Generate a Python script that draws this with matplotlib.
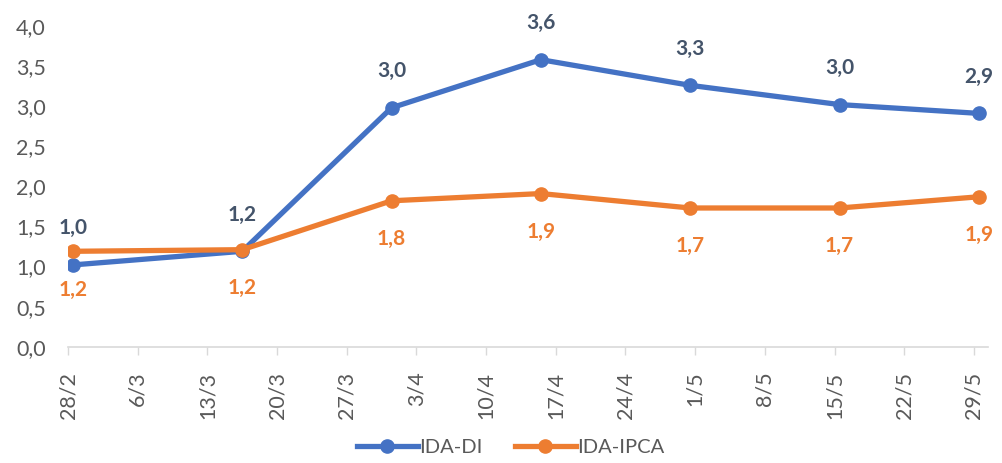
import matplotlib
matplotlib.use("Agg")
import matplotlib.pyplot as plt
import matplotlib.dates as mdates
import pandas as pd

plt.rcParams['font.family'] = ['Lato', 'DejaVu Sans']

# dados
datas = pd.to_datetime(["2020-02-28", "2020-03-16", "2020-03-31", "2020-04-15",
                        "2020-04-30", "2020-05-15", "2020-05-29"])
ida_di = [1.02, 1.19, 2.98, 3.58, 3.26, 3.02, 2.91]
ida_ipca = [1.19, 1.21, 1.82, 1.91, 1.73, 1.73, 1.87]
ticks_x = pd.date_range("2020-02-28", "2020-05-29", freq="7D")
rotulos_x = ["28/2", "6/3", "13/3", "20/3", "27/3", "3/4", "10/4", "17/4",
             "24/4", "1/5", "8/5", "15/5", "22/5", "29/5"]
ticks_y = [0, 0.5, 1.0, 1.5, 2.0, 2.5, 3.0, 3.5, 4.0]

AZUL = "#4472C4"
LARANJA = "#ED7D31"
CINZA = "#595959"

fig = plt.figure(figsize=(10.02, 4.63), dpi=100)
ax = fig.add_axes([68 / 1002, 1 - 346.7 / 463, 920 / 1002, 320.7 / 463])

# Excel coloca os pontos no meio do dia -> ticks meio dia antes
meio_dia = pd.Timedelta(hours=12)

ax.plot(datas, ida_di, color=AZUL, lw=3.8, marker="o", ms=9.5, label="IDA-DI",
        solid_joinstyle="round", zorder=3)
ax.plot(datas, ida_ipca, color=LARANJA, lw=3.8, marker="o", ms=9.5, label="IDA-IPCA",
        solid_joinstyle="round", zorder=4)

for d, v in zip(datas, ida_di):
    ax.annotate(f"{v:.1f}".replace(".", ","), (d, v), xytext=(0, 22),
                textcoords="offset points", ha="center", va="baseline",
                fontsize=15, fontweight="bold", color="#44546A")
for d, v in zip(datas, ida_ipca):
    ax.annotate(f"{v:.1f}".replace(".", ","), (d, v), xytext=(0, -32),
                textcoords="offset points", ha="center", va="baseline",
                fontsize=15, fontweight="bold", color=LARANJA)

ax.set_xlim(ticks_x[0] - meio_dia, ticks_x[-1] + meio_dia + pd.Timedelta(hours=10))
ax.set_ylim(0, 4.0)
ax.set_xticks(ticks_x - meio_dia)
ax.set_xticklabels(rotulos_x, rotation=90, fontsize=15.5, color=CINZA)
ax.set_yticks(ticks_y)
ax.set_yticklabels([f"{t:.1f}".replace(".", ",") for t in ticks_y], fontsize=15.5, color=CINZA)

ax.tick_params(axis="y", length=0, pad=16)
ax.tick_params(axis="x", length=6, width=1, color="#D9D9D9", pad=12)
for s in ["top", "right", "left"]:
    ax.spines[s].set_visible(False)
ax.spines["bottom"].set_color("#D9D9D9")
ax.spines["bottom"].set_linewidth(1.2)

leg = fig.legend(loc="center", bbox_to_anchor=(0.51, 1 - 447 / 463), ncol=2, frameon=False,
                 fontsize=14.5, handlelength=3.0, handletextpad=0.1, columnspacing=1.6)
for t in leg.get_texts():
    t.set_color(CINZA)

fig.savefig("out.png", dpi=100)
